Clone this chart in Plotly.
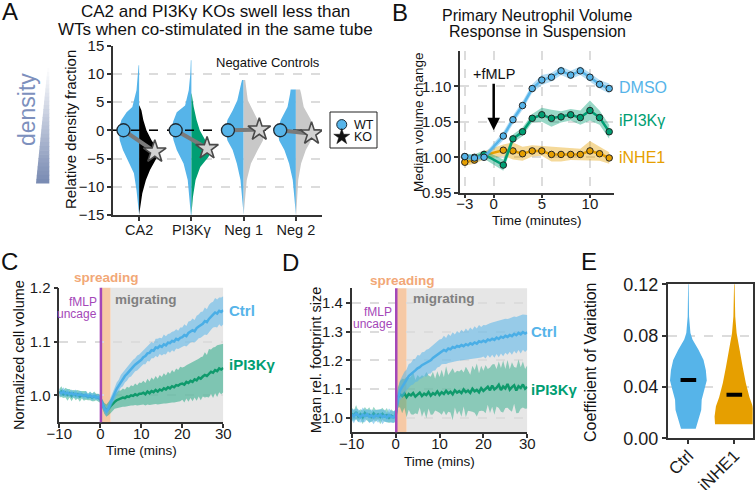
import numpy as np
import plotly.graph_objects as go

W, H = 756, 490
def px(x): return x / W
def py(y): return 1 - y / H

BLUE = "#56B4E9"; GREEN = "#009E73"; ORANGE = "#E69F00"; LGREY = "#c8c8c8"
FONT = "Liberation Sans, Arial, sans-serif"
AXC = "#333333"; GRIDC = "#dcdcdc"

# ---------------- Panel A data ----------------
A_categories = ["CA2", "PI3Kγ", "Neg 1", "Neg 2"]
A_wt_value = [0.0, 0.0, 0.0, 0.0]
A_ko_value = [-3.8, -3.2, 0.1, -0.6]
A_ko_colors = ["#000000", GREEN, LGREY, LGREY]
A_wt_levels = [
    [11.5, 7.1, 4.1, 3.2, 1.8, 0, -1.8, -3.5, -5.9, -7.6, -10.6, -15],
    [12.4, 10, 7.1, 4.4, 3.2, 1.5, 0, -1.8, -3.5, -5.9, -8.8, -15],
    [8.9, 8.2, 5.3, 3.5, 1.8, 0, -1.8, -3.5, -5.9, -8.8, -11.8, -15],
    [7.2, 6.5, 4.1, 1.8, 0, -1.8, -3.5, -5.9, -8.8, -11.8, -15],
]
A_wt_widths = [
    [0.01, 0.05, 0.13, 0.24, 0.34, 0.39, 0.37, 0.31, 0.18, 0.10, 0.05, 0.01],
    [0.01, 0.02, 0.05, 0.12, 0.28, 0.35, 0.38, 0.34, 0.28, 0.15, 0.07, 0.01],
    [0.03, 0.05, 0.12, 0.21, 0.31, 0.35, 0.31, 0.21, 0.13, 0.06, 0.03, 0.01],
    [0.10, 0.11, 0.16, 0.29, 0.35, 0.32, 0.22, 0.13, 0.06, 0.03, 0.01],
]
A_ko_levels = [
    [4.4, 3.5, 1.8, 0, -1.8, -3.5, -5, -7, -8.8, -11.2, -15],
    [6.5, 4.1, 1.8, 0, -1.8, -3.2, -4.7, -6.5, -8.8, -11.8, -15],
    [8.9, 5.3, 3.5, 1.8, 0, -1.8, -3.5, -5.9, -8.8, -11.8, -15],
    [7.2, 6.5, 4.1, 1.8, 0, -1.8, -3.5, -5.9, -8.8, -15],
]
A_ko_widths = [
    [0.005, 0.045, 0.08, 0.14, 0.24, 0.37, 0.33, 0.21, 0.13, 0.06, 0.01],
    [0.005, 0.045, 0.10, 0.16, 0.27, 0.38, 0.33, 0.17, 0.08, 0.03, 0.006],
    [0.03, 0.08, 0.17, 0.27, 0.37, 0.37, 0.27, 0.14, 0.06, 0.03, 0.006],
    [0.08, 0.10, 0.15, 0.29, 0.32, 0.29, 0.19, 0.10, 0.045, 0.006],
]
A_xrange = [-0.5, 3.5]
A_yticks = [-15, -10, -5, 0, 5, 10, 15]

# ---------------- Panel B data ----------------
B_time = [-3, -2, -1, 1, 2, 3, 4, 5, 6, 7, 8, 9, 10, 11, 12]
B_dmso = [1.001, 0.999, 1.000, 1.030, 1.053, 1.073, 1.097, 1.109, 1.113, 1.122, 1.116, 1.122, 1.113, 1.103, 1.097]
B_dmso_err = [0.004, 0.004, 0.004, 0.006, 0.006, 0.006, 0.006, 0.007, 0.006, 0.006, 0.006, 0.006, 0.006, 0.006, 0.007]
B_ipi3k = [1.001, 1.000, 1.004, 0.989, 1.026, 1.036, 1.055, 1.060, 1.055, 1.057, 1.060, 1.056, 1.066, 1.056, 1.036]
B_ipi3k_err = [0.004, 0.004, 0.006, 0.008, 0.006, 0.006, 0.006, 0.010, 0.012, 0.008, 0.008, 0.010, 0.014, 0.010, 0.010]
B_inhe1 = [0.993, 0.996, 1.003, 1.010, 1.009, 1.005, 1.009, 1.009, 1.004, 1.004, 1.004, 1.004, 1.009, 1.005, 0.999]
B_inhe1_err = [0.005, 0.005, 0.006, 0.008, 0.012, 0.010, 0.008, 0.007, 0.010, 0.010, 0.008, 0.008, 0.014, 0.010, 0.008]

# ---------------- Panel C / D data (t = -10 .. 30, every 0.5 min) ----------------
CD_time = np.arange(-10, 30.01, 0.5)
C_ctrl = ([1.006, 1.004, 1.007, 1.003, 1.005, 1.002, 1.004, 1.001, 1.003, 1.000, 1.002, 1.001, 0.999, 1.001, 0.998, 1.000, 0.997, 0.999, 0.996, 0.997]
          + [0.994, 0.985, 0.975, 0.970, 0.976, 0.986, 0.996, 1.004, 1.012, 1.018, 1.026, 1.030, 1.036, 1.040, 1.045, 1.049, 1.053, 1.057, 1.060, 1.063]
          + [1.066, 1.071, 1.073, 1.078, 1.079, 1.084, 1.083, 1.089, 1.088, 1.092, 1.090, 1.095, 1.093, 1.098, 1.097, 1.101, 1.100, 1.105, 1.103, 1.107]
          + [1.108, 1.112, 1.110, 1.116, 1.118, 1.121, 1.119, 1.125, 1.128, 1.131, 1.133, 1.138, 1.136, 1.142, 1.147, 1.150, 1.154, 1.152, 1.157, 1.155, 1.158])
C_ctrl_err = ([0.007, 0.006, 0.008, 0.006, 0.007, 0.005, 0.007, 0.006, 0.008, 0.006, 0.007, 0.005, 0.006, 0.007, 0.005, 0.006, 0.007, 0.006, 0.005, 0.006]
              + [0.006, 0.008, 0.009, 0.010, 0.009, 0.010, 0.011, 0.010, 0.012, 0.011, 0.012, 0.013, 0.012, 0.013, 0.012, 0.014, 0.013, 0.012, 0.014, 0.013]
              + [0.014, 0.013, 0.015, 0.014, 0.016, 0.015, 0.014, 0.016, 0.017, 0.015, 0.016, 0.018, 0.017, 0.016, 0.018, 0.017, 0.019, 0.018, 0.017, 0.019]
              + [0.018, 0.020, 0.019, 0.021, 0.020, 0.022, 0.021, 0.023, 0.022, 0.024, 0.023, 0.025, 0.024, 0.026, 0.025, 0.024, 0.027, 0.026, 0.025, 0.027, 0.026])
C_ipi3k = ([1.004, 1.007, 1.002, 1.005, 1.001, 1.004, 0.999, 1.003, 1.000, 1.002, 0.998, 1.001, 0.999, 1.000, 0.997, 0.999, 0.996, 0.998, 0.997, 0.996]
           + [0.993, 0.984, 0.976, 0.972, 0.975, 0.980, 0.985, 0.988, 0.991, 0.993, 0.994, 0.996, 0.995, 0.998, 0.997, 1.000, 0.999, 1.002, 1.000, 1.003]
           + [1.003, 1.005, 1.002, 1.007, 1.004, 1.008, 1.006, 1.010, 1.007, 1.011, 1.009, 1.013, 1.011, 1.015, 1.013, 1.017, 1.015, 1.019, 1.018, 1.021]
           + [1.022, 1.020, 1.025, 1.023, 1.027, 1.025, 1.030, 1.028, 1.033, 1.031, 1.035, 1.038, 1.036, 1.041, 1.044, 1.042, 1.047, 1.045, 1.050, 1.048, 1.051])
C_ipi3k_err = ([0.008, 0.010, 0.007, 0.009, 0.011, 0.008, 0.010, 0.007, 0.009, 0.008, 0.010, 0.007, 0.009, 0.008, 0.006, 0.008, 0.007, 0.009, 0.006, 0.007]
               + [0.007, 0.009, 0.010, 0.011, 0.012, 0.013, 0.014, 0.013, 0.015, 0.016, 0.015, 0.017, 0.016, 0.018, 0.017, 0.019, 0.018, 0.020, 0.019, 0.021]
               + [0.020, 0.022, 0.021, 0.024, 0.022, 0.025, 0.023, 0.026, 0.024, 0.027, 0.025, 0.028, 0.026, 0.029, 0.027, 0.030, 0.028, 0.031, 0.029, 0.032]
               + [0.030, 0.033, 0.031, 0.035, 0.032, 0.036, 0.034, 0.038, 0.035, 0.040, 0.037, 0.042, 0.039, 0.045, 0.041, 0.047, 0.043, 0.048, 0.044, 0.046, 0.045])
D_ctrl = ([1.012, 1.005, 1.015, 1.008, 1.003, 1.011, 1.006, 1.013, 1.004, 1.009, 1.002, 1.010, 1.005, 1.012, 1.003, 1.008, 1.001, 1.010, 1.004, 1.002]
          + [1.010, 1.065, 1.095, 1.108, 1.120, 1.132, 1.145, 1.152, 1.160, 1.165, 1.172, 1.176, 1.183, 1.187, 1.190, 1.196, 1.200, 1.208, 1.213, 1.220]
          + [1.225, 1.230, 1.236, 1.232, 1.241, 1.238, 1.246, 1.243, 1.250, 1.247, 1.253, 1.249, 1.256, 1.252, 1.259, 1.255, 1.262, 1.258, 1.266, 1.263]
          + [1.268, 1.264, 1.272, 1.269, 1.275, 1.271, 1.279, 1.274, 1.282, 1.278, 1.285, 1.281, 1.288, 1.284, 1.292, 1.287, 1.295, 1.290, 1.298, 1.293, 1.297])
D_ctrl_err = ([0.020, 0.024, 0.018, 0.022, 0.019, 0.025, 0.021, 0.017, 0.023, 0.020, 0.024, 0.018, 0.022, 0.019, 0.025, 0.020, 0.017, 0.023, 0.021, 0.020]
              + [0.020, 0.030, 0.035, 0.038, 0.040, 0.036, 0.042, 0.039, 0.044, 0.040, 0.046, 0.041, 0.045, 0.042, 0.047, 0.043, 0.046, 0.044, 0.048, 0.045]
              + [0.047, 0.044, 0.049, 0.045, 0.050, 0.046, 0.051, 0.047, 0.052, 0.048, 0.053, 0.049, 0.054, 0.050, 0.055, 0.051, 0.056, 0.052, 0.057, 0.053]
              + [0.055, 0.058, 0.054, 0.060, 0.056, 0.062, 0.057, 0.063, 0.058, 0.064, 0.059, 0.062, 0.058, 0.065, 0.060, 0.063, 0.059, 0.066, 0.061, 0.064, 0.060])
D_ipi3k = ([1.015, 1.008, 1.020, 1.005, 1.013, 1.002, 1.017, 1.009, 1.011, 1.004, 1.016, 1.007, 1.012, 1.003, 1.014, 1.006, 1.010, 1.000, 1.008, 1.003]
           + [1.005, 1.070, 1.082, 1.076, 1.085, 1.072, 1.083, 1.078, 1.086, 1.074, 1.081, 1.088, 1.076, 1.084, 1.079, 1.090, 1.077, 1.086, 1.081, 1.092]
           + [1.080, 1.089, 1.083, 1.094, 1.085, 1.091, 1.082, 1.096, 1.088, 1.093, 1.086, 1.099, 1.090, 1.095, 1.087, 1.101, 1.092, 1.097, 1.089, 1.103]
           + [1.094, 1.100, 1.108, 1.096, 1.112, 1.099, 1.105, 1.115, 1.097, 1.109, 1.102, 1.118, 1.098, 1.107, 1.113, 1.095, 1.110, 1.104, 1.116, 1.101, 1.108])
D_ipi3k_err = ([0.022, 0.018, 0.025, 0.020, 0.017, 0.024, 0.021, 0.019, 0.026, 0.018, 0.023, 0.020, 0.017, 0.025, 0.021, 0.019, 0.024, 0.018, 0.022, 0.020]
               + [0.020, 0.035, 0.045, 0.060, 0.050, 0.070, 0.055, 0.065, 0.075, 0.058, 0.068, 0.052, 0.072, 0.060, 0.080, 0.057, 0.066, 0.074, 0.055, 0.070]
               + [0.062, 0.078, 0.058, 0.085, 0.064, 0.072, 0.090, 0.060, 0.076, 0.068, 0.082, 0.059, 0.088, 0.070, 0.063, 0.080, 0.074, 0.092, 0.066, 0.078]
               + [0.070, 0.084, 0.062, 0.079, 0.073, 0.088, 0.065, 0.081, 0.076, 0.090, 0.068, 0.083, 0.071, 0.086, 0.064, 0.079, 0.093, 0.072, 0.080, 0.069, 0.075])

# ---------------- Panel E data ----------------
E_categories = ["Ctrl", "iNHE1"]
E_colors = [BLUE, ORANGE]
E_medians = [0.0455, 0.034]
E_levels = [
    [0.121, 0.095, 0.082, 0.077, 0.069, 0.061, 0.053, 0.045, 0.038, 0.030, 0.022, 0.014, 0.0075],
    [0.121, 0.095, 0.082, 0.069, 0.056, 0.043, 0.032, 0.025, 0.017, 0.011],
]
E_widths = [
    [0.005, 0.015, 0.045, 0.09, 0.22, 0.33, 0.38, 0.40, 0.35, 0.29, 0.28, 0.22, 0.16],
    [0.005, 0.02, 0.05, 0.11, 0.18, 0.25, 0.33, 0.40, 0.43, 0.42],
]

fig = go.Figure()

def half_violin(c, levels, widths, sgn):
    xs = [c] + [c + sgn * w for w in widths] + [c]
    ys = [levels[0]] + list(levels) + [levels[-1]]
    return xs, ys

# ---- Panel A traces ----
for i in range(len(A_categories)):
    xs, ys = half_violin(i, A_wt_levels[i], A_wt_widths[i], -1)
    fig.add_trace(go.Scatter(x=xs, y=ys, mode="lines", fill="toself", fillcolor=BLUE,
                             line=dict(width=0, color=BLUE), xaxis="x", yaxis="y", hoverinfo="skip"))
    xs, ys = half_violin(i, A_ko_levels[i], A_ko_widths[i], 1)
    fig.add_trace(go.Scatter(x=xs, y=ys, mode="lines", fill="toself", fillcolor=A_ko_colors[i],
                             line=dict(width=0, color=A_ko_colors[i]), xaxis="x", yaxis="y", hoverinfo="skip"))
fig.add_trace(go.Scatter(x=A_xrange, y=[0, 0], mode="lines", line=dict(color="black", width=1.5, dash="dash"),
                         xaxis="x", yaxis="y", hoverinfo="skip"))
for i in range(len(A_categories)):
    fig.add_trace(go.Scatter(x=[i - 0.3, i + 0.3], y=[A_wt_value[i], A_ko_value[i]], mode="lines",
                             line=dict(color="#7a7a7a", width=4), xaxis="x", yaxis="y"))
fig.add_trace(go.Scatter(x=[i - 0.3 for i in range(4)], y=A_wt_value, mode="markers",
                         marker=dict(symbol="circle", size=13, color=BLUE, line=dict(color="#1f2a33", width=1.3)),
                         xaxis="x", yaxis="y"))
fig.add_trace(go.Scatter(x=[i + 0.3 for i in range(4)], y=A_ko_value, mode="markers",
                         marker=dict(symbol="star", size=17, color="#d2d2d2", line=dict(color="#4a4a4a", width=1.6)),
                         xaxis="x", yaxis="y"))
# legend (manual)
fig.add_trace(go.Scatter(x=[0.25], y=[0.65], mode="markers",
                         marker=dict(symbol="circle", size=10, color=BLUE, line=dict(color="#1f2a33", width=1)),
                         xaxis="x6", yaxis="y6"))
fig.add_trace(go.Scatter(x=[0.25], y=[0.31], mode="markers",
                         marker=dict(symbol="star", size=12, color="#111111", line=dict(color="#111", width=0.5)),
                         xaxis="x6", yaxis="y6"))

# ---- Panel B traces ----
for vals, err, col, fc in [(B_inhe1, B_inhe1_err, ORANGE, "rgba(230,159,0,0.40)"),
                           (B_ipi3k, B_ipi3k_err, GREEN, "rgba(0,158,115,0.40)"),
                           (B_dmso, B_dmso_err, BLUE, "rgba(86,180,233,0.45)")]:
    up = [v + e for v, e in zip(vals, err)]
    lo = [v - e for v, e in zip(vals, err)]
    fig.add_trace(go.Scatter(x=B_time, y=up, mode="lines", line=dict(width=0), xaxis="x2", yaxis="y2", hoverinfo="skip"))
    fig.add_trace(go.Scatter(x=B_time, y=lo, mode="lines", line=dict(width=0), fill="tonexty", fillcolor=fc,
                             xaxis="x2", yaxis="y2", hoverinfo="skip"))
    fig.add_trace(go.Scatter(x=B_time, y=vals, mode="lines+markers", line=dict(color=col, width=2.5),
                             marker=dict(size=6.5, color=col, line=dict(color="#222", width=1)),
                             xaxis="x2", yaxis="y2"))

# ---- Panel C / D traces ----
def band(xa, ya, t, m, e, col, fc, lw):
    m = np.array(m); e = np.array(e)
    fig.add_trace(go.Scatter(x=t, y=m + e, mode="lines", line=dict(width=0), xaxis=xa, yaxis=ya, hoverinfo="skip"))
    fig.add_trace(go.Scatter(x=t, y=m - e, mode="lines", line=dict(width=0), fill="tonexty", fillcolor=fc,
                             xaxis=xa, yaxis=ya, hoverinfo="skip"))
    fig.add_trace(go.Scatter(x=t, y=m, mode="lines", line=dict(color=col, width=lw), xaxis=xa, yaxis=ya))

band("x3", "y3", CD_time, C_ipi3k, C_ipi3k_err, "#0f9a6c", "rgba(0,158,115,0.45)", 2.5)
band("x3", "y3", CD_time, C_ctrl, C_ctrl_err, "#4aaee6", "rgba(86,180,233,0.55)", 2.5)
band("x4", "y4", CD_time, D_ipi3k, D_ipi3k_err, "#0f9a6c", "rgba(0,158,115,0.40)", 2.5)
band("x4", "y4", CD_time, D_ctrl, D_ctrl_err, "#4aaee6", "rgba(86,180,233,0.55)", 2.5)

# ---- Panel E traces ----
for i in range(len(E_categories)):
    lv = E_levels[i]; wd = E_widths[i]
    xs = [i - w for w in wd] + [i + w for w in wd[::-1]]
    ys = list(lv) + list(lv[::-1])
    fig.add_trace(go.Scatter(x=xs, y=ys, mode="lines", fill="toself", fillcolor=E_colors[i],
                             line=dict(width=0, color=E_colors[i]), xaxis="x5", yaxis="y5", hoverinfo="skip"))
    fig.add_trace(go.Scatter(x=[i - 0.17, i + 0.17], y=[E_medians[i]] * 2, mode="lines",
                             line=dict(color="black", width=4), xaxis="x5", yaxis="y5"))

# ---------------- Axes ----------------
def axis(**kw):
    d = dict(showline=True, linecolor=AXC, linewidth=1.5, ticks="outside", ticklen=4, tickwidth=1.5,
             tickcolor=AXC, tickfont=dict(size=15, color="#1a1a1a", family=FONT), zeroline=False,
             showgrid=False, gridcolor=GRIDC, griddash="dash", gridwidth=1.5, fixedrange=True,
             automargin=False)
    d.update(kw)
    return d

XSO = -7  # pull x tick labels closer to the axis line
fig.update_layout(
    xaxis=axis(domain=[px(113), px(322)], range=A_xrange, tickvals=[0, 1, 2, 3], ticktext=A_categories,
               tickfont=dict(size=14.5, color="#1a1a1a", family=FONT), anchor="y", ticklabelstandoff=-3),
    yaxis=axis(domain=[py(215), py(45.5)], range=[-15, 15], tickvals=A_yticks, showgrid=True, anchor="x"),
    xaxis2=axis(domain=[px(460), px(614)], range=[-3.5, 12.5], tickvals=[-3, 0, 5, 10], showgrid=True, anchor="y2",
                ticklabelstandoff=XSO),
    yaxis2=axis(domain=[py(192.7), py(51)], range=[0.95, 1.15], tickvals=[0.95, 1.0, 1.05, 1.10],
                ticktext=["0.95", "1.00", "1.05", "1.10"], showgrid=True, anchor="x2"),
    xaxis3=axis(domain=[px(59.3), px(223.3)], range=[-10, 30], tickvals=[-10, 0, 10, 20, 30], anchor="y3",
                ticklabelstandoff=XSO),
    yaxis3=axis(domain=[py(422.3), py(287.7)], range=[0.95, 1.2], tickvals=[1.0, 1.1, 1.2],
                ticktext=["1.0", "1.1", "1.2"], showgrid=True, anchor="x3"),
    xaxis4=axis(domain=[px(351.7), px(527.3)], range=[-10, 30], tickvals=[-10, 0, 10, 20, 30], anchor="y4",
                ticklabelstandoff=XSO),
    yaxis4=axis(domain=[py(432.3), py(288.3)], range=[0.95, 1.45], tickvals=[1.0, 1.1, 1.2, 1.3, 1.4],
                ticktext=["1.0", "1.1", "1.2", "1.3", "1.4"], showgrid=True, anchor="x4"),
    xaxis5=axis(domain=[px(667.7), px(752.7)], range=[-0.45, 1.4], tickvals=[0, 1], ticktext=E_categories,
                tickangle=-45, tickfont=dict(size=17, color="#1a1a1a", family=FONT), mirror=True, anchor="y5",
                ticklabelstandoff=-5),
    yaxis5=axis(domain=[py(438.3), py(284.3)], range=[0, 0.12], tickvals=[0, 0.04, 0.08, 0.12],
                ticktext=["0.00", "0.04", "0.08", "0.12"], showgrid=True, mirror=True, anchor="x5",
                tickfont=dict(size=18, color="#1a1a1a", family=FONT)),
    xaxis6=dict(domain=[px(330), px(377)], range=[0, 1], visible=False, fixedrange=True, anchor="y6", automargin=False),
    yaxis6=dict(domain=[py(148), py(112)], range=[0, 1], visible=False, fixedrange=True, anchor="x6", automargin=False),
)

shapes = []
# legend box
shapes.append(dict(type="rect", xref="paper", yref="paper", x0=px(330), x1=px(377), y0=py(148), y1=py(112),
                   line=dict(color="#222", width=1), fillcolor="white", layer="below"))
# density wedge gradient
n = 28
y_top, y_bot, x_r, x_l_top, x_l_bot = 68, 183, 49.3, 47.5, 36
c0 = np.array([255, 255, 255]); c1 = np.array([120, 138, 178])
for k in range(n):
    ya = y_top + (y_bot - y_top) * k / n
    yb = y_top + (y_bot - y_top) * (k + 1) / n
    xa = x_l_top + (x_l_bot - x_l_top) * k / n
    xb = x_l_top + (x_l_bot - x_l_top) * (k + 1) / n
    f = (k + 0.5) / n
    c = (c0 + (c1 - c0) * f).astype(int)
    col = f"rgb({c[0]},{c[1]},{c[2]})"
    path = f"M {px(xa)},{py(ya)} L {px(x_r)},{py(ya)} L {px(x_r)},{py(yb + 0.6)} L {px(xb)},{py(yb + 0.6)} Z"
    shapes.append(dict(type="path", xref="paper", yref="paper", path=path, fillcolor=col, line=dict(width=0)))
# C and D phase shading
for xa, ya in [("x3", "y3"), ("x4", "y4")]:
    shapes.append(dict(type="rect", xref=xa, yref=f"{ya} domain", x0=2.5, x1=30, y0=0, y1=1,
                       fillcolor="#e6e6e6", line=dict(width=0), layer="below"))
    shapes.append(dict(type="rect", xref=xa, yref=f"{ya} domain", x0=0.3, x1=2.5, y0=0, y1=1,
                       fillcolor="#f6c9a5", line=dict(width=0), layer="below"))
    shapes.append(dict(type="line", xref=xa, yref=f"{ya} domain", x0=0.15, x1=0.15, y0=0, y1=1,
                       line=dict(color="#a447b8", width=2.5)))
fig.update_layout(shapes=shapes)

ann = []
def txt(x, y, s, size, color="#111", bold=False, xanchor="center", angle=0):
    if bold:
        s = f"<b>{s}</b>"
    ann.append(dict(x=px(x), y=py(y), xref="paper", yref="paper", text=s, showarrow=False,
                    font=dict(size=size, color=color, family=FONT), xanchor=xanchor, yanchor="middle",
                    textangle=angle))

# panel letters
txt(10, 12, "A", 24); txt(400, 13, "B", 24); txt(9, 261, "C", 24); txt(290, 262, "D", 24); txt(589, 261, "E", 24)
# axis titles
txt(70, 130, "Relative density fraction", 15, angle=-90)
txt(418, 122, "Median volume change", 13.5, angle=-90)
txt(537, 220, "Time (minutes)", 13.5)
txt(19, 355, "Normalized cell volume", 14.5, angle=-90)
txt(141.3, 450, "Time (mins)", 13.5)
txt(316, 360.3, "Mean rel. footprint size", 14.5, angle=-90)
txt(439.5, 461, "Time (mins)", 13.5)
txt(590, 362, "Coefficient of Variation", 16, angle=-90)
# Panel A text
txt(215, 12, "CA2 and PI3Kγ KOs swell less than", 17)
txt(215, 29, "WTs when co-stimulated in the same tube", 17)
txt(268, 63, "Negative Controls", 13)
txt(27, 110, "density", 23, color="#7d90bd", angle=-90)
txt(352, 124.5, "WT", 12.5, xanchor="left")
txt(352, 137, "KO", 12.5, xanchor="left")
# Panel B text
txt(537, 15, "Primary Neutrophil Volume", 16)
txt(537, 31.5, "Response in Suspension", 16)
txt(617, 88, "DMSO", 16, color=BLUE, xanchor="left")
txt(617, 121, "iPI3Kγ", 16, color=GREEN, xanchor="left")
txt(617, 157, "iNHE1", 16, color=ORANGE, xanchor="left")
ann.append(dict(x=0, y=1.038, xref="x2", yref="y2", ax=0, ay=-56, text="+fMLP", showarrow=True,
                arrowhead=2, arrowsize=1, arrowwidth=2.5, arrowcolor="black",
                font=dict(size=14.5, color="#111", family=FONT)))
# Panel C text
txt(106, 277.7, "spreading", 13.5, color="#f2a877", bold=True)
txt(145.5, 299, "migrating", 13.5, color="#808080", bold=True)
txt(99, 301.5, "fMLP", 12, color="#a447b8", xanchor="right")
txt(99, 313.5, "uncage", 12, color="#a447b8", xanchor="right")
txt(227, 310, "Ctrl", 15, color=BLUE, bold=True, xanchor="left")
txt(227, 364, "iPI3Kγ", 15, color=GREEN, bold=True, xanchor="left")
# Panel D text
txt(402, 280.7, "spreading", 13.5, color="#f2a877", bold=True)
txt(444, 298.3, "migrating", 13.5, color="#808080", bold=True)
txt(394, 311.5, "fMLP", 12, color="#a447b8", xanchor="right")
txt(395, 324, "uncage", 12, color="#a447b8", xanchor="right")
txt(529, 331.7, "Ctrl", 15, color=BLUE, bold=True, xanchor="left")
txt(529, 389, "iPI3Kγ", 15, color=GREEN, bold=True, xanchor="left")
fig.update_layout(annotations=ann)

fig.update_layout(width=W, height=H, autosize=False, margin=dict(l=0, r=0, t=0, b=0, autoexpand=False),
                  paper_bgcolor="white", plot_bgcolor="white", showlegend=False,
                  font=dict(family=FONT, color="#111"))
fig.write_html("out.html", config={"displayModeBar": False},
               post_script="document.body.style.margin='0px';document.body.style.overflow='hidden';")
